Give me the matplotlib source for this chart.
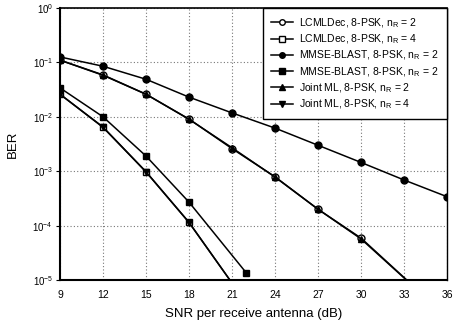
import matplotlib
matplotlib.use("Agg")
import matplotlib.pyplot as plt
import numpy as np

plt.rcParams['font.family'] = ['Liberation Sans', 'DejaVu Sans']
plt.rcParams['mathtext.fontset'] = 'custom'
plt.rcParams['mathtext.rm'] = 'Liberation Sans'
plt.rcParams['mathtext.it'] = 'Liberation Sans'
plt.rcParams['mathtext.default'] = 'regular'

snr_a = [9, 12, 15, 18, 21, 24, 27, 30, 33, 36]
mmse_n2_circ = [0.126, 0.085, 0.049, 0.023, 0.0118, 0.0062, 0.003, 0.00145, 0.00069, 0.00034]

snr_b = [9, 12, 15, 18, 21, 24, 27, 30, 36]
lcml_n2 = [0.11, 0.059, 0.026, 0.0091, 0.0026, 0.00079, 0.0002, 0.000059, 0.0000021]
joint_n2 = [0.11, 0.058, 0.026, 0.009, 0.0027, 0.00078, 0.0002, 0.000057, 0.0000021]

snr_c = [9, 12, 15, 18, 22]
mmse_n2_sq = [0.034, 0.01, 0.0019, 0.00027, 0.0000135]

snr_d = [9, 12, 15, 18, 21]
lcml_n4 = [0.026, 0.0065, 0.00098, 0.000115, 0.0000088]
joint_n4 = [0.026, 0.0064, 0.00097, 0.000114, 0.0000088]

xticks = [9, 12, 15, 18, 21, 24, 27, 30, 33, 36]
labels = ["LCMLDec, 8-PSK, $n_R$ = 2", "LCMLDec, 8-PSK, $n_R$ = 4",
          "MMSE-BLAST, 8-PSK, $n_R$ = 2", "MMSE-BLAST, 8-PSK, $n_R$ = 2",
          "Joint ML, 8-PSK, $n_R$ = 2", "Joint ML, 8-PSK, $n_R$ = 4"]

fig = plt.figure(figsize=(4.53, 3.29), dpi=100)
ax = fig.add_axes([60/453, 1-280/329, (447-60)/453, (280-8)/329])

lw = 1.1
ms = 5
h1, = ax.plot(snr_b, lcml_n2, color='black', lw=lw, marker='o', ms=ms, mfc='white', mec='black', label=labels[0])
h2, = ax.plot(snr_d, lcml_n4, color='black', lw=lw, marker='s', ms=ms, mfc='white', mec='black', label=labels[1])
h3, = ax.plot(snr_a, mmse_n2_circ, color='black', lw=lw, marker='o', ms=ms, mfc='black', mec='black', label=labels[2])
h4, = ax.plot(snr_c, mmse_n2_sq, color='black', lw=lw, marker='s', ms=ms, mfc='black', mec='black', label=labels[3])
h5, = ax.plot(snr_b, joint_n2, color='black', lw=lw, marker='^', ms=ms, mfc='black', mec='black', label=labels[4])
h6, = ax.plot(snr_d, joint_n4, color='black', lw=lw, marker='v', ms=ms, mfc='black', mec='black', label=labels[5])

ax.set_yscale('log')
ax.set_ylim(1e-5, 1)
ax.set_xlim(9, 36)
ax.set_xticks(xticks)
ax.set_xticklabels([str(t) for t in xticks], fontsize=7.5)
ax.set_yticks([1e-5, 1e-4, 1e-3, 1e-2, 1e-1, 1])
ax.set_yticklabels(["$10^{-5}$", "$10^{-4}$", "$10^{-3}$", "$10^{-2}$", "$10^{-1}$", "$10^{0}$"], fontsize=7)
ax.yaxis.set_minor_locator(matplotlib.ticker.NullLocator())
ax.tick_params(axis='x', length=0, pad=7)
ax.tick_params(axis='y', length=3, pad=2, direction='out')
ax.grid(True, which='major', color='#777777', linestyle=(0, (1, 2)), linewidth=0.8)
for s in ax.spines.values():
    s.set_color('black')
ax.spines['left'].set_linewidth(1.5)
ax.spines['bottom'].set_linewidth(1.5)
ax.spines['top'].set_linewidth(1.2)
ax.spines['right'].set_linewidth(1.0)

ax.set_xlabel("SNR per receive antenna (dB)", fontsize=9.5, labelpad=6)
ax.set_ylabel("BER", fontsize=9.5, labelpad=10)

leg = ax.legend(handles=[h1, h2, h3, h4, h5, h6], loc='upper right', fontsize=7.5,
                frameon=True, fancybox=False, framealpha=1, edgecolor='black',
                borderaxespad=0, handlelength=2.1, handletextpad=0.6,
                labelspacing=0.25, borderpad=0.8, markerscale=0.8)
leg.get_frame().set_linewidth(1.0)

fig.savefig("out.png", dpi=100)
